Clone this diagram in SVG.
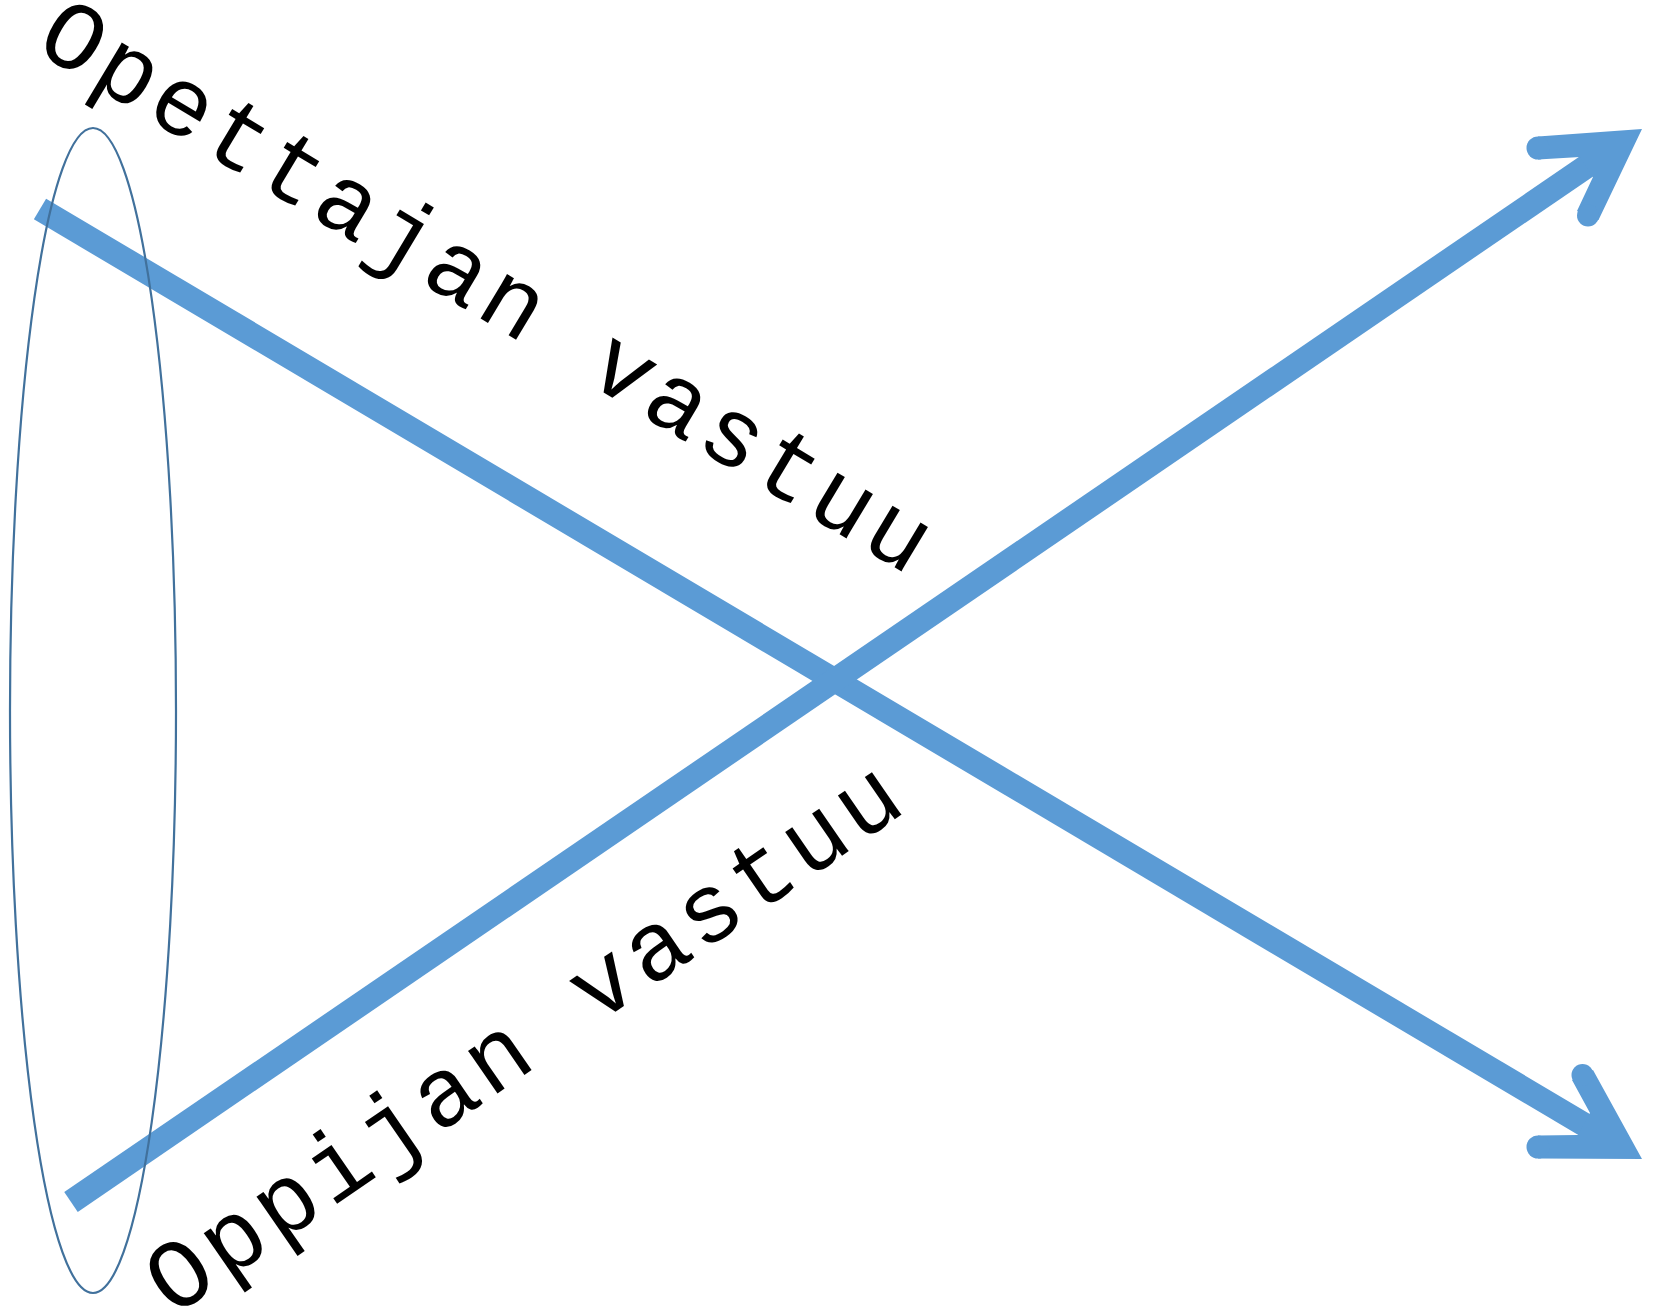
<svg xmlns="http://www.w3.org/2000/svg" width="1655" height="1307" viewBox="0 0 1655 1307">
<style>
.shaft{stroke:#5B9BD5;stroke-width:24;fill:none;stroke-linecap:butt}
.head{fill:#5B9BD5;stroke:none}
.label{font-family:"Liberation Mono","Courier New",monospace;font-size:98px;letter-spacing:5.4px;font-style:normal;font-weight:normal;fill:#000000;text-anchor:middle}
.oval{fill:none;stroke:#41719C;stroke-width:2.2}
</style>
<rect width="1655" height="1307" fill="#ffffff"/>
<g id="connectors">
<g id="arrow-down">
<line class="shaft" x1="40" y1="209" x2="1590" y2="1128"/>
<path class="head" d="M1642,1159 L1538,1158.5 L1538,1135.5 L1578,1135 L1590,1113 L1572,1080 L1593,1070 Z"/>
<circle class="head" cx="1538" cy="1147" r="11.5"/>
<circle class="head" cx="1582.5" cy="1075" r="11"/>
</g>
<g id="arrow-up">
<line class="shaft" x1="71" y1="1202" x2="1590" y2="164"/>
<path class="head" d="M1642,129 L1598.5,220 L1577,211 L1593,177 L1580,157 L1538,159.5 L1538,136.5 Z"/>
<circle class="head" cx="1538" cy="148" r="11.5"/>
<circle class="head" cx="1588" cy="215.5" r="11"/>
</g>
</g>
<g id="ellipse-node">
<ellipse class="oval" cx="93" cy="710.5" rx="83" ry="582.5"/>
</g>
<g id="label-opettajan">
<text class="label" transform="translate(473,314) rotate(31.0)">Opettajan vastuu</text>
</g>
<g id="label-oppijan">
<text class="label" transform="translate(543,1062) rotate(-34.6)">Oppijan vastuu</text>
</g>
</svg>
